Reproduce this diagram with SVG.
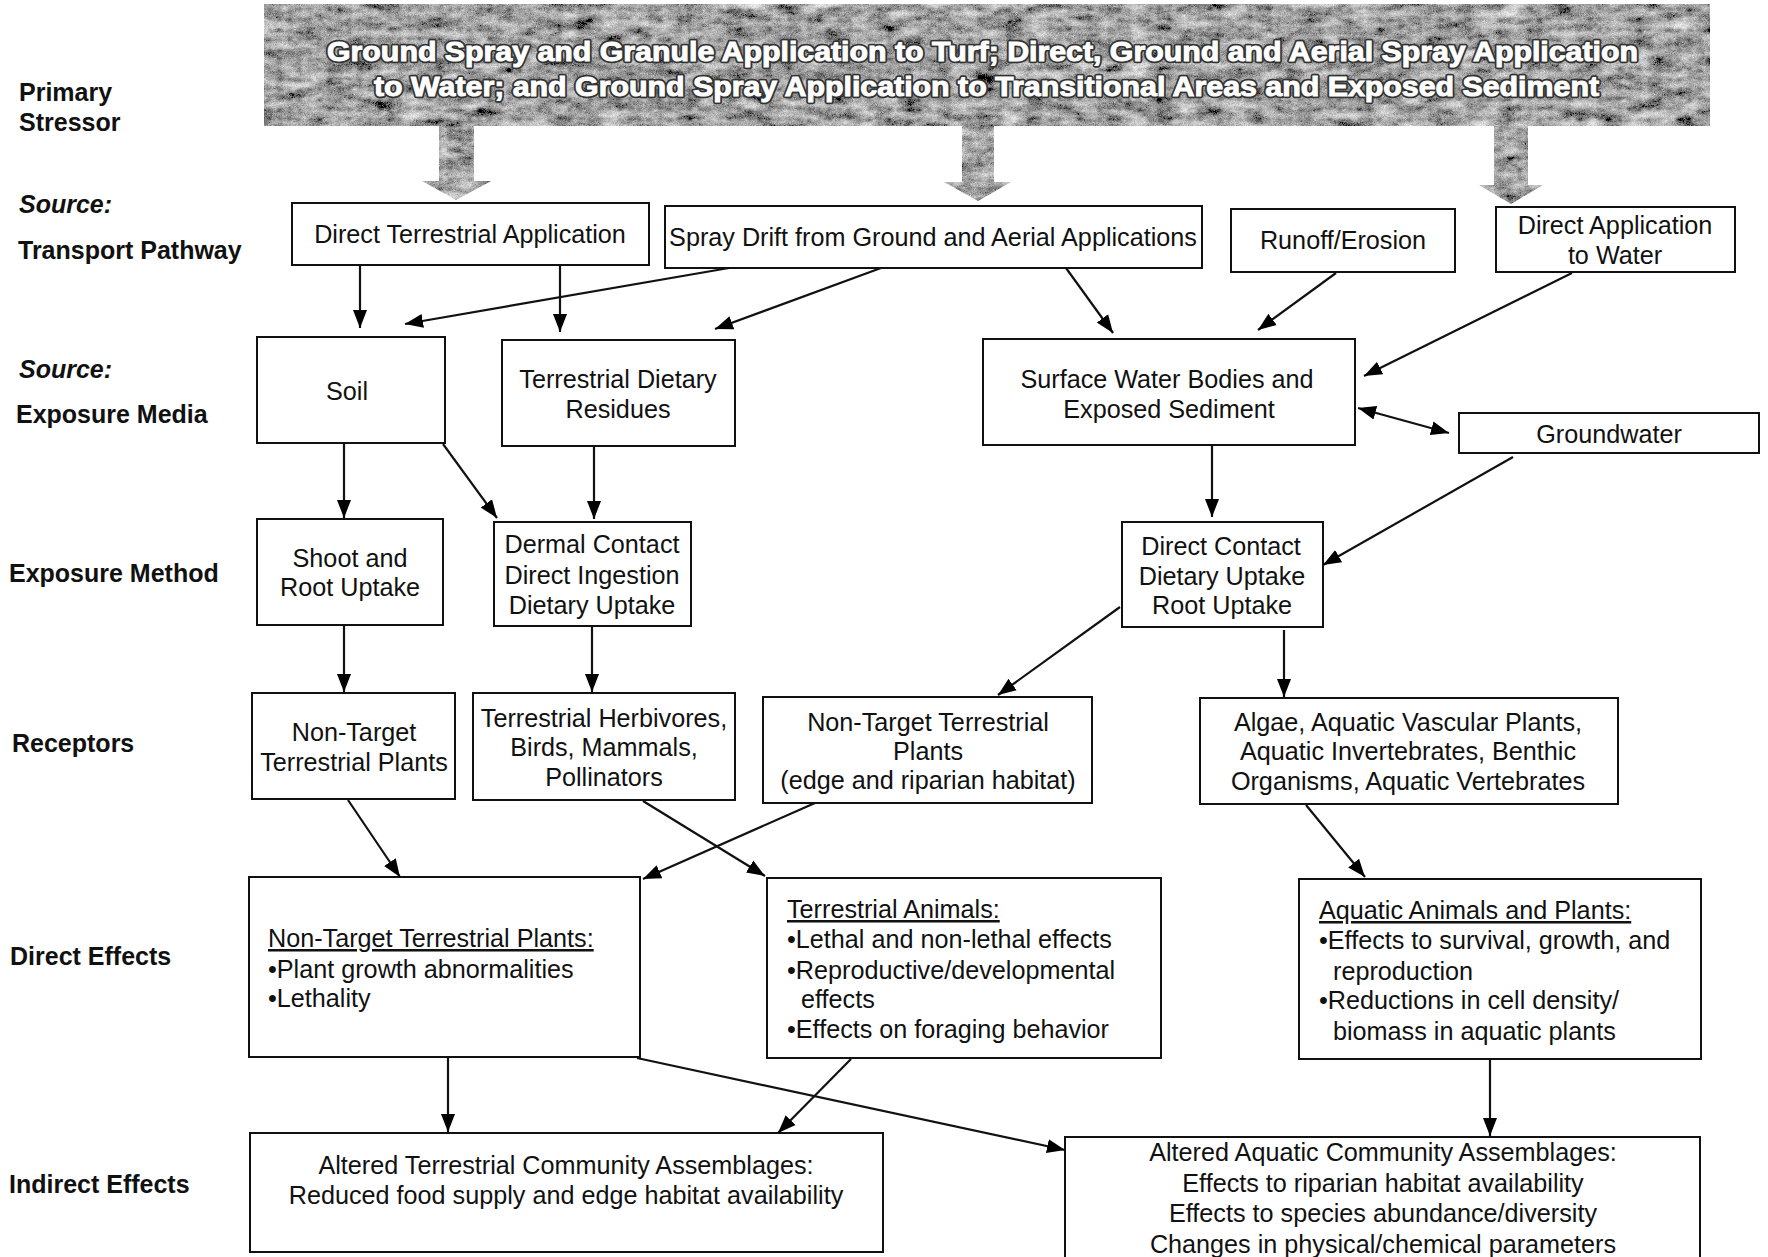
<svg xmlns="http://www.w3.org/2000/svg" width="1768" height="1257" viewBox="0 0 1768 1257">
<defs>
<filter id="tex" x="0" y="0" width="1" height="1" filterUnits="objectBoundingBox">
<feTurbulence type="fractalNoise" baseFrequency="0.04 0.1" numOctaves="6" seed="11" result="n"/>
<feColorMatrix in="n" type="matrix" values="0.33 0.33 0.33 0 0 0.33 0.33 0.33 0 0 0.33 0.33 0.33 0 0 0 0 0 0 1" result="g"/>
<feTurbulence type="turbulence" baseFrequency="0.9" numOctaves="1" seed="3" result="f"/>
<feColorMatrix in="f" type="matrix" values="0.33 0.33 0.33 0 0 0.33 0.33 0.33 0 0 0.33 0.33 0.33 0 0 0 0 0 0 1" result="fg"/>
<feComposite in="g" in2="fg" operator="arithmetic" k1="0" k2="1" k3="0.5" k4="-0.12" result="m"/>
<feComponentTransfer in="m" result="c">
<feFuncR type="linear" slope="1.7" intercept="-0.42"/>
<feFuncG type="linear" slope="1.7" intercept="-0.42"/>
<feFuncB type="linear" slope="1.7" intercept="-0.42"/>
</feComponentTransfer>
<feComposite in="c" in2="SourceAlpha" operator="in"/>
</filter>
<marker id="ah" markerWidth="20" markerHeight="16" refX="18" refY="8" orient="auto-start-reverse" markerUnits="userSpaceOnUse">
<path d="M0,1 L18,8 L0,15 z" fill="#000"/>
</marker>
</defs>
<style>
.box{fill:#fff;stroke:#111;stroke-width:2}
.t{font-family:"Liberation Sans",Arial,Helvetica,sans-serif;font-size:25.2px;fill:#111}
.c{text-anchor:middle}
.lab{font-family:"Liberation Sans",Arial,Helvetica,sans-serif;font-size:25px;font-weight:bold;fill:#111}
.it{font-style:italic}
.u{text-decoration:underline}
.ban{font-family:"Liberation Sans",Arial,Helvetica,sans-serif;font-size:28px;font-weight:bold}
.ban1{fill:#333;stroke:#333;stroke-width:4.5;stroke-linejoin:round}
.ban2{fill:#fff;stroke:#fff;stroke-width:1}
.con line{stroke:#111;stroke-width:2.2;marker-end:url(#ah)}
</style>
<rect width="1768" height="1257" fill="#fff"/>

<g id="labels">
<text class="lab" x="19" y="101">Primary</text>
<text class="lab" x="19" y="131">Stressor</text>
<text class="lab it" x="19" y="213">Source:</text>
<text class="lab" x="18" y="259">Transport Pathway</text>
<text class="lab it" x="19" y="378">Source:</text>
<text class="lab" x="16" y="423">Exposure Media</text>
<text class="lab" x="9" y="582">Exposure Method</text>
<text class="lab" x="12" y="752">Receptors</text>
<text class="lab" x="10" y="965">Direct Effects</text>
<text class="lab" x="9" y="1193">Indirect Effects</text>
</g>

<g id="stressor">
<rect x="264" y="4" width="1446" height="122" fill="#888" filter="url(#tex)"/>
<path d="M439,120 H474 V181 H491 L456,200 L422,181 H439 Z" fill="#888" filter="url(#tex)"/>
<path d="M962,120 H994 V182 H1011 L978,201 L944,182 H962 Z" fill="#888" filter="url(#tex)"/>
<path d="M1494,120 H1528 V185 H1543 L1511,204 L1479,185 H1494 Z" fill="#888" filter="url(#tex)"/>
<text class="ban ban1" x="327" y="61" textLength="1311" lengthAdjust="spacingAndGlyphs">Ground Spray and Granule Application to Turf; Direct, Ground and Aerial Spray Application</text>
<text class="ban ban1" x="374" y="96" textLength="1225" lengthAdjust="spacingAndGlyphs">to Water; and Ground Spray Application to Transitional Areas and Exposed Sediment</text>
<text class="ban ban2" x="327" y="61" textLength="1311" lengthAdjust="spacingAndGlyphs">Ground Spray and Granule Application to Turf; Direct, Ground and Aerial Spray Application</text>
<text class="ban ban2" x="374" y="96" textLength="1225" lengthAdjust="spacingAndGlyphs">to Water; and Ground Spray Application to Transitional Areas and Exposed Sediment</text>
</g>

<g id="n-dta"><rect class="box" x="292" y="203" width="357" height="62"/><text class="t c" x="470" y="243">Direct Terrestrial Application</text></g>
<g id="n-spray"><rect class="box" x="665" y="206" width="537" height="62"/><text class="t c" x="933" y="246">Spray Drift from Ground and Aerial Applications</text></g>
<g id="n-runoff"><rect class="box" x="1231" y="209" width="224" height="63"/><text class="t c" x="1343" y="249">Runoff/Erosion</text></g>
<g id="n-daw"><rect class="box" x="1496" y="207" width="239" height="65"/><text class="t c" x="1615" y="234">Direct Application</text><text class="t c" x="1615" y="264">to Water</text></g>

<g id="n-soil"><rect class="box" x="257" y="337" width="188" height="106"/><text class="t c" x="347" y="400">Soil</text></g>
<g id="n-tdr"><rect class="box" x="502" y="340" width="233" height="106"/><text class="t c" x="618" y="388">Terrestrial Dietary</text><text class="t c" x="618" y="418">Residues</text></g>
<g id="n-sw"><rect class="box" x="983" y="339" width="372" height="106"/><text class="t c" x="1167" y="388">Surface Water Bodies and</text><text class="t c" x="1169" y="418">Exposed Sediment</text></g>
<g id="n-gw"><rect class="box" x="1459" y="413" width="300" height="40"/><text class="t c" x="1609" y="443">Groundwater</text></g>

<g id="n-shoot"><rect class="box" x="257" y="519" width="186" height="106"/><text class="t c" x="350" y="567">Shoot and</text><text class="t c" x="350" y="596">Root Uptake</text></g>
<g id="n-dermal"><rect class="box" x="494" y="522" width="197" height="104"/><text class="t c" x="592" y="553">Dermal Contact</text><text class="t c" x="592" y="584">Direct Ingestion</text><text class="t c" x="592" y="614">Dietary Uptake</text></g>
<g id="n-dc"><rect class="box" x="1122" y="522" width="201" height="105"/><text class="t c" x="1221" y="555">Direct Contact</text><text class="t c" x="1222" y="585">Dietary Uptake</text><text class="t c" x="1222" y="614">Root Uptake</text></g>

<g id="n-nttp"><rect class="box" x="252" y="693" width="203" height="106"/><text class="t c" x="354" y="741">Non-Target</text><text class="t c" x="354" y="771">Terrestrial Plants</text></g>
<g id="n-herb"><rect class="box" x="473" y="693" width="262" height="107"/><text class="t c" x="604" y="727">Terrestrial Herbivores,</text><text class="t c" x="604" y="756">Birds, Mammals,</text><text class="t c" x="604" y="786">Pollinators</text></g>
<g id="n-nttpe"><rect class="box" x="763" y="697" width="329" height="106"/><text class="t c" x="928" y="731">Non-Target Terrestrial</text><text class="t c" x="928" y="760">Plants</text><text class="t c" x="928" y="789">(edge and riparian habitat)</text></g>
<g id="n-algae"><rect class="box" x="1200" y="698" width="418" height="106"/><text class="t c" x="1408" y="731">Algae, Aquatic Vascular Plants,</text><text class="t c" x="1408" y="760">Aquatic Invertebrates, Benthic</text><text class="t c" x="1408" y="790">Organisms, Aquatic Vertebrates</text></g>

<g id="n-de-plants"><rect class="box" x="249" y="877" width="391" height="180"/><text class="t u" x="268" y="947">Non-Target Terrestrial Plants:</text><text class="t" x="268" y="978">•Plant growth abnormalities</text><text class="t" x="268" y="1007">•Lethality</text></g>
<g id="n-de-animals"><rect class="box" x="767" y="878" width="394" height="180"/><text class="t u" x="787" y="918">Terrestrial Animals:</text><text class="t" x="787" y="948">•Lethal and non-lethal effects</text><text class="t" x="787" y="979">•Reproductive/developmental</text><text class="t" x="801" y="1008">effects</text><text class="t" x="787" y="1038">•Effects on foraging behavior</text></g>
<g id="n-de-aquatic"><rect class="box" x="1299" y="879" width="402" height="180"/><text class="t u" x="1319" y="919">Aquatic Animals and Plants:</text><text class="t" x="1319" y="949">•Effects to survival, growth, and</text><text class="t" x="1333" y="980">reproduction</text><text class="t" x="1319" y="1009">•Reductions in cell density/</text><text class="t" x="1333" y="1040">biomass in aquatic plants</text></g>

<g id="n-ie-terr"><rect class="box" x="250" y="1133" width="633" height="119"/><text class="t c" x="566" y="1174">Altered Terrestrial Community Assemblages:</text><text class="t c" x="566" y="1204">Reduced food supply and edge habitat availability</text></g>
<g id="n-ie-aq"><rect class="box" x="1065" y="1137" width="635" height="125"/><text class="t c" x="1383" y="1161">Altered Aquatic Community Assemblages:</text><text class="t c" x="1383" y="1192">Effects to riparian habitat availability</text><text class="t c" x="1383" y="1222">Effects to species abundance/diversity</text><text class="t c" x="1383" y="1253">Changes in physical/chemical parameters</text></g>

<g id="connectors" class="con">
<line x1="360" y1="266" x2="360" y2="328"/>
<line x1="560" y1="266" x2="560" y2="332"/>
<line x1="729" y1="268" x2="405" y2="324"/>
<line x1="881" y1="268" x2="715" y2="329"/>
<line x1="1066" y1="268" x2="1113" y2="333"/>
<line x1="1336" y1="273" x2="1258" y2="330"/>
<line x1="1572" y1="273" x2="1364" y2="376"/>
<line x1="1358" y1="408" x2="1449" y2="433" marker-start="url(#ah)"/>
<line x1="344" y1="444" x2="344" y2="518"/>
<line x1="443" y1="444" x2="497" y2="518"/>
<line x1="594" y1="447" x2="594" y2="519"/>
<line x1="1212" y1="446" x2="1212" y2="517"/>
<line x1="1513" y1="457" x2="1323" y2="565"/>
<line x1="344" y1="626" x2="344" y2="692"/>
<line x1="592" y1="627" x2="592" y2="692"/>
<line x1="1120" y1="607" x2="998" y2="695"/>
<line x1="1284" y1="630" x2="1284" y2="697"/>
<line x1="348" y1="800" x2="400" y2="877"/>
<line x1="643" y1="801" x2="765" y2="876"/>
<line x1="815" y1="803" x2="643" y2="879"/>
<line x1="1306" y1="805" x2="1365" y2="877"/>
<line x1="448" y1="1058" x2="448" y2="1132"/>
<line x1="851" y1="1059" x2="778" y2="1133"/>
<line x1="637" y1="1058" x2="1065" y2="1150"/>
<line x1="1490" y1="1060" x2="1490" y2="1136"/>
</g>
</svg>
